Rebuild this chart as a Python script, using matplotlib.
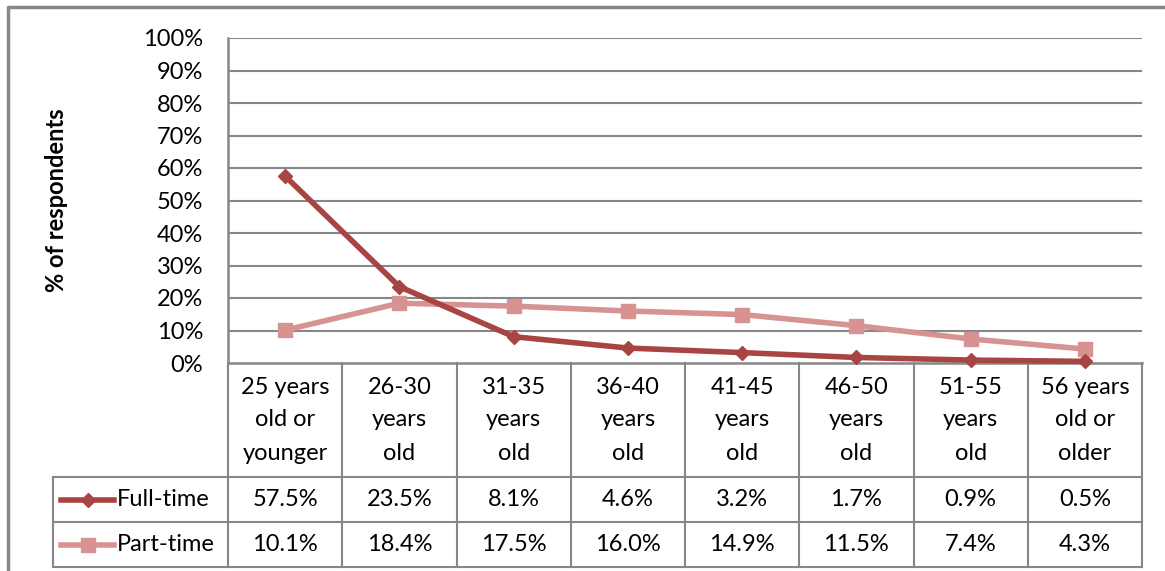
"""Age distribution of full-time vs part-time respondents: line chart with data table."""
import matplotlib
matplotlib.use("Agg")
import matplotlib.pyplot as plt
from matplotlib.lines import Line2D
from matplotlib.ticker import FuncFormatter

plt.rcParams["font.family"] = ["Lato", "DejaVu Sans"]

categories = [
    "25 years\nold or\nyounger",
    "26-30\nyears\nold",
    "31-35\nyears\nold",
    "36-40\nyears\nold",
    "41-45\nyears\nold",
    "46-50\nyears\nold",
    "51-55\nyears\nold",
    "56 years\nold or\nolder",
]
full_time = [57.5, 23.5, 8.1, 4.6, 3.2, 1.7, 0.9, 0.5]
part_time = [10.1, 18.4, 17.5, 16.0, 14.9, 11.5, 7.4, 4.3]
series_names = ["Full-time", "Part-time"]
y_ticks = list(range(0, 101, 10))

W, H = 1165, 571
GRAY = "#878787"
FULL_C = "#A84442"
PART_C = "#D69392"
FS = 17

# layout in pixels (y from top)
PL, PR, PT, PB = 228, 1142, 38, 363
ROW_HEAD_B, ROW1_B, ROW2_B = 477, 522, 567
LEG_L = 53

fig = plt.figure(figsize=(W / 100, H / 100), dpi=100)

# full-figure overlay in pixel coordinates for the frame and the data table
bg = fig.add_axes([0, 0, 1, 1], zorder=0)
bg.set_xlim(0, W)
bg.set_ylim(H, 0)
bg.axis("off")

ax = fig.add_axes([PL / W, 1 - PB / H, (PR - PL) / W, (PB - PT) / H], zorder=2)
ax.patch.set_alpha(0)
n = len(categories)
ax.set_xlim(-0.5, n - 0.5)
ax.set_ylim(0, 100)
ax.set_yticks(y_ticks)
ax.yaxis.set_major_formatter(FuncFormatter(lambda v, _: f"{v:.0f}%"))
ax.tick_params(axis="y", length=0, pad=18, labelsize=FS)
ax.set_xticks([])
for t in y_ticks[1:]:
    ax.axhline(t, color=GRAY, lw=1.5, zorder=1)
for side in ["top", "right"]:
    ax.spines[side].set_visible(False)
ax.spines["left"].set_color(GRAY)
ax.spines["left"].set_linewidth(1.8)
ax.spines["bottom"].set_color(GRAY)
ax.spines["bottom"].set_linewidth(1.8)

# axis title
bg.text(57, (PT + PB) / 2, "% of respondents", rotation=90, ha="center", va="center",
        fontsize=FS, fontweight="bold")

xs = list(range(n))
ax.plot(xs, part_time, color=PART_C, lw=4, marker="s", markersize=10, zorder=3,
        clip_on=False)
ax.plot(xs, full_time, color=FULL_C, lw=4, marker="D", markersize=7, zorder=4,
        clip_on=False)

# outer chart frame (runs past the right and bottom edge)
bg.plot([8, 8, W + 5], [H + 5, 7, 7], color=GRAY, lw=2.5, solid_capstyle="butt")

# data table grid
col_w = (PR - PL) / n
for i in range(n + 1):
    x = PL + i * col_w
    bg.plot([x, x], [PB, ROW2_B], color=GRAY, lw=1.5)
for y in [ROW_HEAD_B, ROW1_B, ROW2_B]:
    bg.plot([LEG_L, PR], [y, y], color=GRAY, lw=1.5)
bg.plot([LEG_L, LEG_L], [ROW_HEAD_B, ROW2_B], color=GRAY, lw=1.5)

# category headers
for i, label in enumerate(categories):
    cx = PL + (i + 0.5) * col_w
    for j, line in enumerate(label.split("\n")):
        bg.text(cx, 387 + j * 33, line, ha="center", va="center", fontsize=FS)

# value rows with legend keys
rows = [
    (full_time, series_names[0], FULL_C, "D", 7, (ROW_HEAD_B + ROW1_B) / 2),
    (part_time, series_names[1], PART_C, "s", 10, (ROW1_B + ROW2_B) / 2),
]
for vals, name, color, mk, ms, cy in rows:
    bg.add_line(Line2D([61, 114], [cy, cy], color=color, lw=4))
    bg.add_line(Line2D([87.5], [cy], color=color, marker=mk, markersize=ms))
    bg.text(117, cy, name, ha="left", va="center", fontsize=FS)
    for i, v in enumerate(vals):
        cx = PL + (i + 0.5) * col_w
        bg.text(cx, cy, f"{v:.1f}%", ha="center", va="center", fontsize=FS)

fig.savefig("out.png", dpi=100)
